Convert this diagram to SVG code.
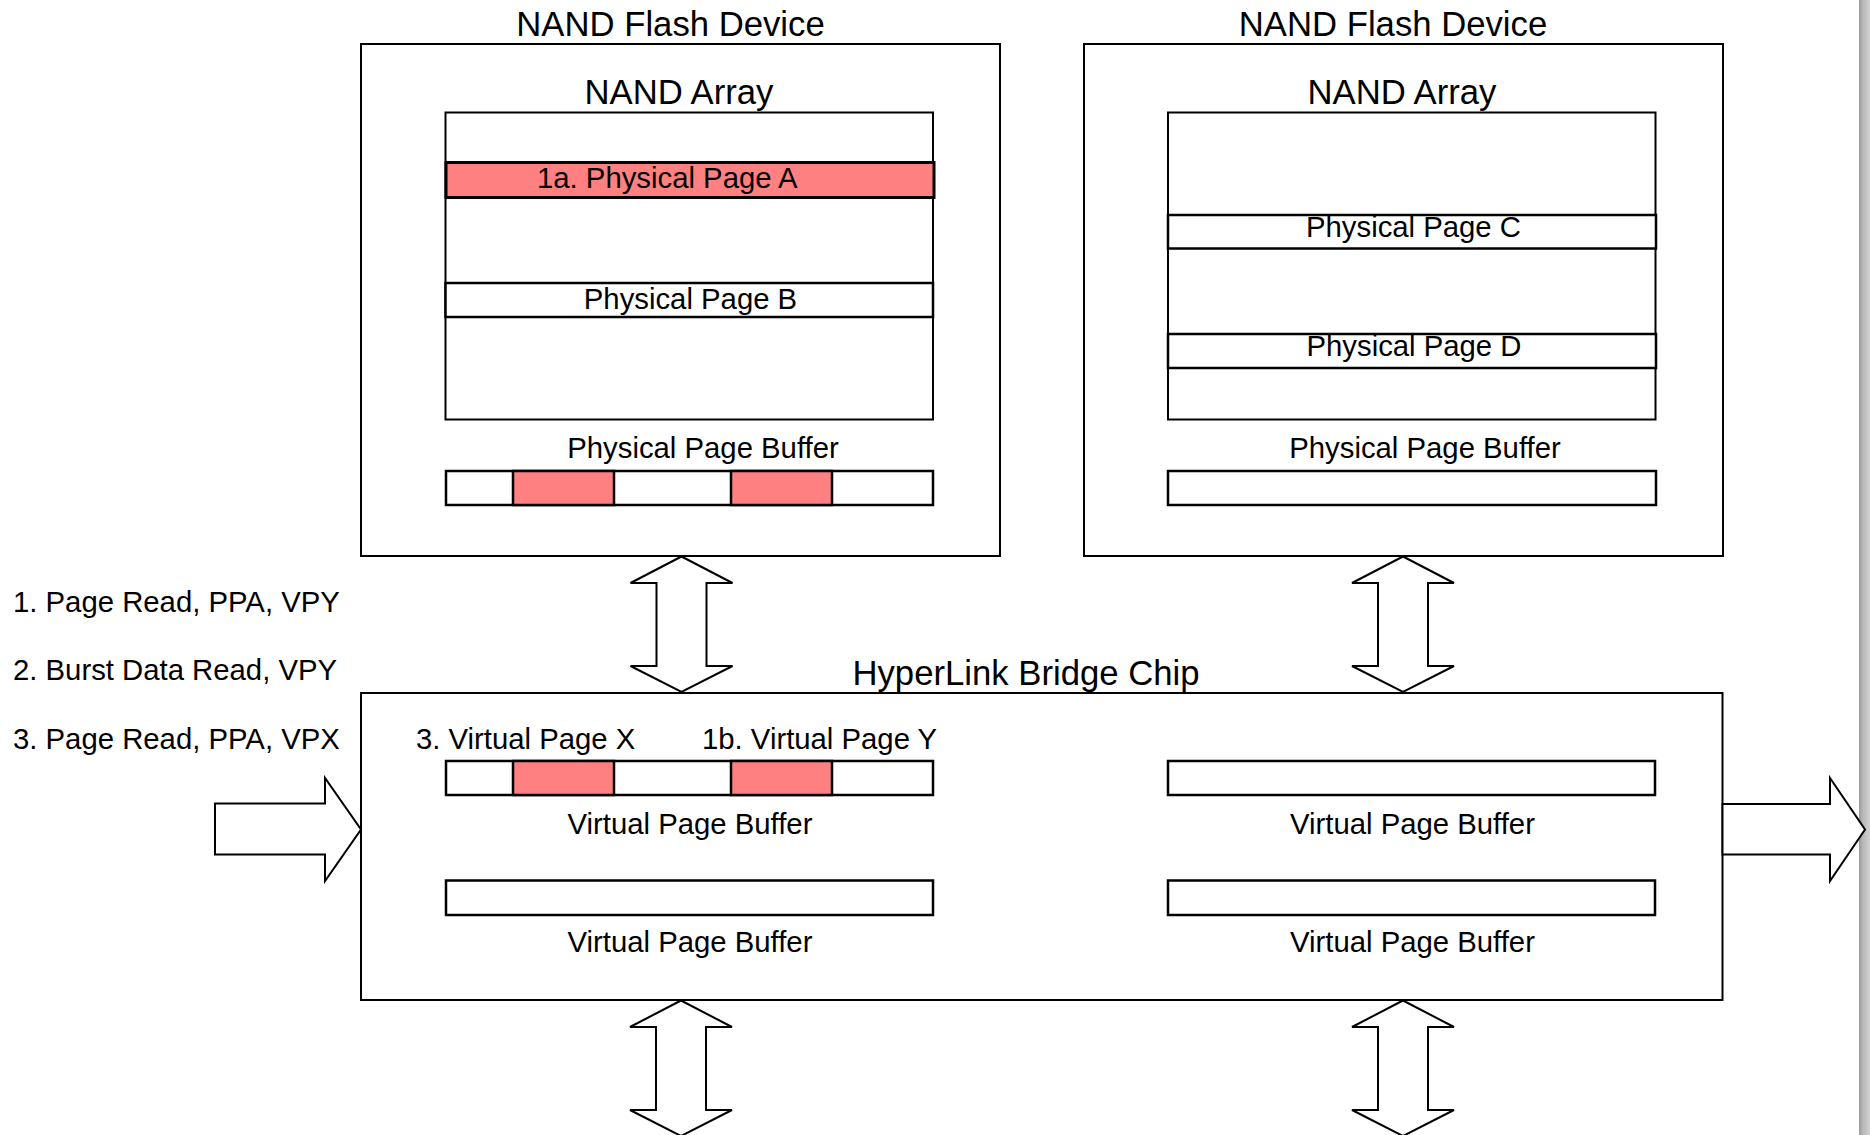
<svg xmlns="http://www.w3.org/2000/svg" xmlns:xlink="http://www.w3.org/1999/xlink" width="1870" height="1135" viewBox="0 0 1870 1135">
  <defs>
    <style>
      .box { fill: #ffffff; stroke: #000000; stroke-width: 2; }
      .row { fill: #ffffff; stroke: #000000; stroke-width: 2.5; }
      .hot { fill: #ff8080; stroke: #000000; stroke-width: 2.5; }
      .arrow { fill: #ffffff; stroke: #000000; stroke-width: 2; stroke-linejoin: miter; }
      .title { font-family: "Liberation Sans", Arial, sans-serif; font-size: 34.7px; fill: #000000; }
      .lbl { font-family: "Liberation Sans", Arial, sans-serif; font-size: 29.3px; fill: #000000; }
      .mid { text-anchor: middle; }
    </style>
    <linearGradient id="edge" x1="0" y1="0" x2="1" y2="0">
      <stop offset="0" stop-color="#9a9a9a"/>
      <stop offset="0.35" stop-color="#b8b8b8"/>
      <stop offset="1" stop-color="#d2d2d2"/>
    </linearGradient>
    <path id="dbl" d="M0,0 L51,26.5 L25,26.5 L25,109.5 L51,109.5 L0,135.5 L-51,109.5 L-25,109.5 L-25,26.5 L-51,26.5 Z"/>
  </defs>

  <rect x="0" y="0" width="1870" height="1135" fill="#ffffff"/>
  <rect x="1859" y="0" width="11" height="1135" fill="url(#edge)"/>

  <g id="nand-device-left">
    <text class="title mid" x="670.5" y="36">NAND Flash Device</text>
    <rect class="box" x="361" y="44" width="639" height="512"/>
    <text class="title mid" x="679" y="104">NAND Array</text>
    <rect class="box" x="445.5" y="112.5" width="487.5" height="307"/>
    <g id="page-a">
      <rect class="hot" x="446" y="162.5" width="488" height="35" style="stroke-width:3"/>
      <text class="lbl" x="537" y="188">1a. Physical Page A</text>
    </g>
    <g id="page-b">
      <rect class="row" x="445.5" y="283" width="487.5" height="34"/>
      <text class="lbl mid" x="690.5" y="309">Physical Page B</text>
    </g>
    <g id="phys-buffer-left">
      <text class="lbl mid" x="703" y="457.5">Physical Page Buffer</text>
      <rect class="row" x="446" y="471" width="487" height="34"/>
      <rect class="hot" x="513" y="471" width="101" height="34"/>
      <rect class="hot" x="731" y="471" width="101" height="34"/>
    </g>
  </g>

  <g id="nand-device-right">
    <text class="title mid" x="1393" y="36">NAND Flash Device</text>
    <rect class="box" x="1084" y="44" width="639" height="512"/>
    <text class="title mid" x="1402" y="104">NAND Array</text>
    <rect class="box" x="1168" y="112.5" width="487.5" height="307"/>
    <g id="page-c">
      <rect class="row" x="1168" y="215" width="488" height="33.5"/>
      <text class="lbl mid" x="1413.5" y="237">Physical Page C</text>
    </g>
    <g id="page-d">
      <rect class="row" x="1168" y="334" width="488" height="34"/>
      <text class="lbl mid" x="1414" y="356">Physical Page D</text>
    </g>
    <g id="phys-buffer-right">
      <text class="lbl mid" x="1425" y="457.5">Physical Page Buffer</text>
      <rect class="row" x="1168" y="471" width="488" height="34"/>
    </g>
  </g>

  <g id="commands">
    <text class="lbl" x="13" y="611.5">1. Page Read, PPA, VPY</text>
    <text class="lbl" x="13" y="679.5">2. Burst Data Read, VPY</text>
    <text class="lbl" x="13" y="748.5">3. Page Read, PPA, VPX</text>
  </g>

  <g id="bridge-chip">
    <text class="title mid" x="1026" y="684.5">HyperLink Bridge Chip</text>
    <rect class="box" x="361" y="693" width="1361.5" height="307"/>
    <text class="lbl" x="416" y="748.5">3. Virtual Page X</text>
    <text class="lbl" x="702" y="748.5">1b. Virtual Page Y</text>
    <g id="vpb-top-left">
      <rect class="row" x="446" y="761" width="487" height="34"/>
      <rect class="hot" x="513" y="761" width="101" height="34"/>
      <rect class="hot" x="731" y="761" width="101" height="34"/>
      <text class="lbl mid" x="690" y="833.5">Virtual Page Buffer</text>
    </g>
    <g id="vpb-top-right">
      <rect class="row" x="1168" y="761" width="487" height="34"/>
      <text class="lbl mid" x="1412.5" y="833.5">Virtual Page Buffer</text>
    </g>
    <g id="vpb-bottom-left">
      <rect class="row" x="446" y="880.5" width="487" height="34.5"/>
      <text class="lbl mid" x="690" y="951.5">Virtual Page Buffer</text>
    </g>
    <g id="vpb-bottom-right">
      <rect class="row" x="1168" y="880.5" width="487" height="34.5"/>
      <text class="lbl mid" x="1412.5" y="951.5">Virtual Page Buffer</text>
    </g>
  </g>

  <g id="connectors">
    <use xlink:href="#dbl" href="#dbl" class="arrow" transform="translate(681.5,556.5)"/>
    <use xlink:href="#dbl" href="#dbl" class="arrow" transform="translate(1403,556.5)"/>
    <use xlink:href="#dbl" href="#dbl" class="arrow" transform="translate(681,1000.5)"/>
    <use xlink:href="#dbl" href="#dbl" class="arrow" transform="translate(1403,1000.5)"/>
    <polygon class="arrow" points="215,803.5 325,803.5 325,778 361,829.5 325,881 325,854.5 215,854.5"/>
    <polygon class="arrow" points="1722.5,804 1830,804 1830,778 1865,829.5 1830,881 1830,854.5 1722.5,854.5"/>
  </g>
</svg>
